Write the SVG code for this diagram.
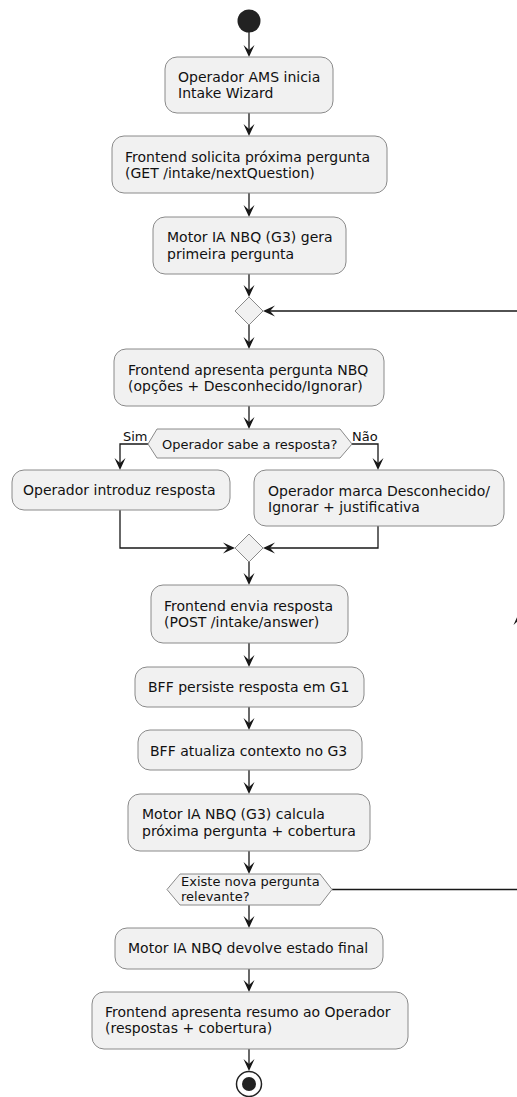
<svg xmlns="http://www.w3.org/2000/svg" width="517" height="1097" viewBox="0 0 517 1097">
  <style>
    .act { fill: #F1F1F1; stroke: #8a8a8a; stroke-width: 1; }
    .txt { font-family: "DejaVu Sans", sans-serif; font-size: 14px; fill: #111; }
    .dtxt { font-family: "DejaVu Sans", sans-serif; font-size: 13px; fill: #111; }
    .lbl { font-family: "DejaVu Sans", sans-serif; font-size: 13px; fill: #111; }
    .edge { fill: none; stroke: #181818; stroke-width: 1.3; }
    .head { fill: #181818; stroke: none; }
  </style>
  <defs>
    <!-- arrowhead pointing down, tip at origin -->
    <polygon id="ah" class="head" points="0,0 -5.5,-12 0,-7 5.5,-12"/>
  </defs>
  <rect width="517" height="1097" fill="#ffffff"/>

  <g id="connectors">
    <line class="edge" x1="249" y1="32" x2="249" y2="55"/>
    <use href="#ah" x="249" y="57"/>
    <line class="edge" x1="249" y1="113" x2="249" y2="134"/>
    <use href="#ah" x="249" y="136"/>
    <line class="edge" x1="249" y1="193" x2="249" y2="215"/>
    <use href="#ah" x="249" y="217"/>
    <line class="edge" x1="249" y1="274" x2="249" y2="295"/>
    <use href="#ah" x="249" y="297"/>
    <!-- loop-back entry into the merge diamond -->
    <line class="edge" x1="517" y1="311" x2="265" y2="311"/>
    <use href="#ah" transform="translate(263,311) rotate(90)"/>
    <line class="edge" x1="249" y1="325" x2="249" y2="347"/>
    <use href="#ah" x="249" y="349"/>
    <line class="edge" x1="249" y1="406" x2="249" y2="427"/>
    <use href="#ah" x="249" y="429"/>
    <!-- branches -->
    <polyline class="edge" points="148,444 120,444 120,468"/>
    <use href="#ah" x="120" y="470"/>
    <polyline class="edge" points="352,444 378,444 378,468"/>
    <use href="#ah" x="378" y="470"/>
    <polyline class="edge" points="120,510 120,548 233,548"/>
    <use href="#ah" transform="translate(235,548) rotate(-90)"/>
    <polyline class="edge" points="378,526 378,548 265,548"/>
    <use href="#ah" transform="translate(263,548) rotate(90)"/>
    <line class="edge" x1="249" y1="562" x2="249" y2="583"/>
    <use href="#ah" x="249" y="585"/>
    <line class="edge" x1="249" y1="643" x2="249" y2="665"/>
    <use href="#ah" x="249" y="667"/>
    <line class="edge" x1="249" y1="707" x2="249" y2="728"/>
    <use href="#ah" x="249" y="730"/>
    <line class="edge" x1="249" y1="770" x2="249" y2="792"/>
    <use href="#ah" x="249" y="794"/>
    <line class="edge" x1="249" y1="851" x2="249" y2="872"/>
    <use href="#ah" x="249" y="874"/>
    <!-- loop-back exit -->
    <line class="edge" x1="332" y1="889.5" x2="517" y2="889.5"/>
    <use href="#ah" transform="translate(519,613) rotate(180)"/>
    <line class="edge" x1="249" y1="905" x2="249" y2="926"/>
    <use href="#ah" x="249" y="928"/>
    <line class="edge" x1="249" y1="969" x2="249" y2="990"/>
    <use href="#ah" x="249" y="992"/>
    <line class="edge" x1="249" y1="1049" x2="249" y2="1069"/>
    <use href="#ah" x="249" y="1071"/>
  </g>

  <g id="start">
    <circle cx="249" cy="21" r="11.5" fill="#222222"/>
  </g>

  <g id="n1">
    <rect class="act" x="165" y="57" width="168" height="56" rx="12"/>
    <text class="txt" x="178" y="82">Operador AMS inicia</text>
    <text class="txt" x="178" y="98">Intake Wizard</text>
  </g>

  <g id="n2">
    <rect class="act" x="112" y="136" width="275" height="57" rx="12"/>
    <text class="txt" x="125" y="162">Frontend solicita próxima pergunta</text>
    <text class="txt" x="125" y="178">(GET /intake/nextQuestion)</text>
  </g>

  <g id="n3">
    <rect class="act" x="153" y="217" width="193" height="57" rx="12"/>
    <text class="txt" x="167" y="242">Motor IA NBQ (G3) gera</text>
    <text class="txt" x="167" y="259">primeira pergunta</text>
  </g>

  <g id="merge1">
    <polygon class="act" points="249,297 263,311 249,325 235,311"/>
  </g>

  <g id="n4">
    <rect class="act" x="114" y="349" width="270" height="57" rx="12"/>
    <text class="txt" x="128" y="375">Frontend apresenta pergunta NBQ</text>
    <text class="txt" x="128" y="391">(opções + Desconhecido/Ignorar)</text>
  </g>

  <g id="d1">
    <polygon class="act" points="148,444 157,429 340,429 352,444 340,458 157,458"/>
    <text class="dtxt" x="162" y="449">Operador sabe a resposta?</text>
    <text class="lbl" x="123" y="441">Sim</text>
    <text class="lbl" x="352" y="441">Não</text>
  </g>

  <g id="n5">
    <rect class="act" x="12" y="470" width="218" height="40" rx="12"/>
    <text class="txt" x="23" y="495">Operador introduz resposta</text>
  </g>

  <g id="n6">
    <rect class="act" x="254" y="470" width="250" height="56" rx="12"/>
    <text class="txt" x="268" y="496">Operador marca Desconhecido/</text>
    <text class="txt" x="268" y="512">Ignorar + justificativa</text>
  </g>

  <g id="merge2">
    <polygon class="act" points="249,534 263,548 249,562 235,548"/>
  </g>

  <g id="n7">
    <rect class="act" x="151" y="585" width="197" height="58" rx="12"/>
    <text class="txt" x="164" y="611">Frontend envia resposta</text>
    <text class="txt" x="164" y="627">(POST /intake/answer)</text>
  </g>

  <g id="n8">
    <rect class="act" x="135" y="667" width="229" height="40" rx="12"/>
    <text class="txt" x="148" y="692">BFF persiste resposta em G1</text>
  </g>

  <g id="n9">
    <rect class="act" x="138" y="730" width="224" height="40" rx="12"/>
    <text class="txt" x="150" y="756">BFF atualiza contexto no G3</text>
  </g>

  <g id="n10">
    <rect class="act" x="128" y="794" width="242" height="57" rx="12"/>
    <text class="txt" x="142" y="819">Motor IA NBQ (G3) calcula</text>
    <text class="txt" x="142" y="836">próxima pergunta + cobertura</text>
  </g>

  <g id="d2">
    <polygon class="act" points="167,889.5 180,874 320,874 332,889.5 320,905 180,905"/>
    <text class="dtxt" x="181" y="886">Existe nova pergunta</text>
    <text class="dtxt" x="181" y="901">relevante?</text>
  </g>

  <g id="n11">
    <rect class="act" x="115" y="928" width="268" height="41" rx="12"/>
    <text class="txt" x="128" y="953">Motor IA NBQ devolve estado final</text>
  </g>

  <g id="n12">
    <rect class="act" x="92" y="992" width="316" height="57" rx="12"/>
    <text class="txt" x="105" y="1017">Frontend apresenta resumo ao Operador</text>
    <text class="txt" x="105" y="1033">(respostas + cobertura)</text>
  </g>

  <g id="end">
    <circle cx="249" cy="1084" r="12.5" fill="#ffffff" stroke="#222222" stroke-width="1.5"/>
    <circle cx="249" cy="1084" r="7" fill="#222222"/>
  </g>
</svg>
